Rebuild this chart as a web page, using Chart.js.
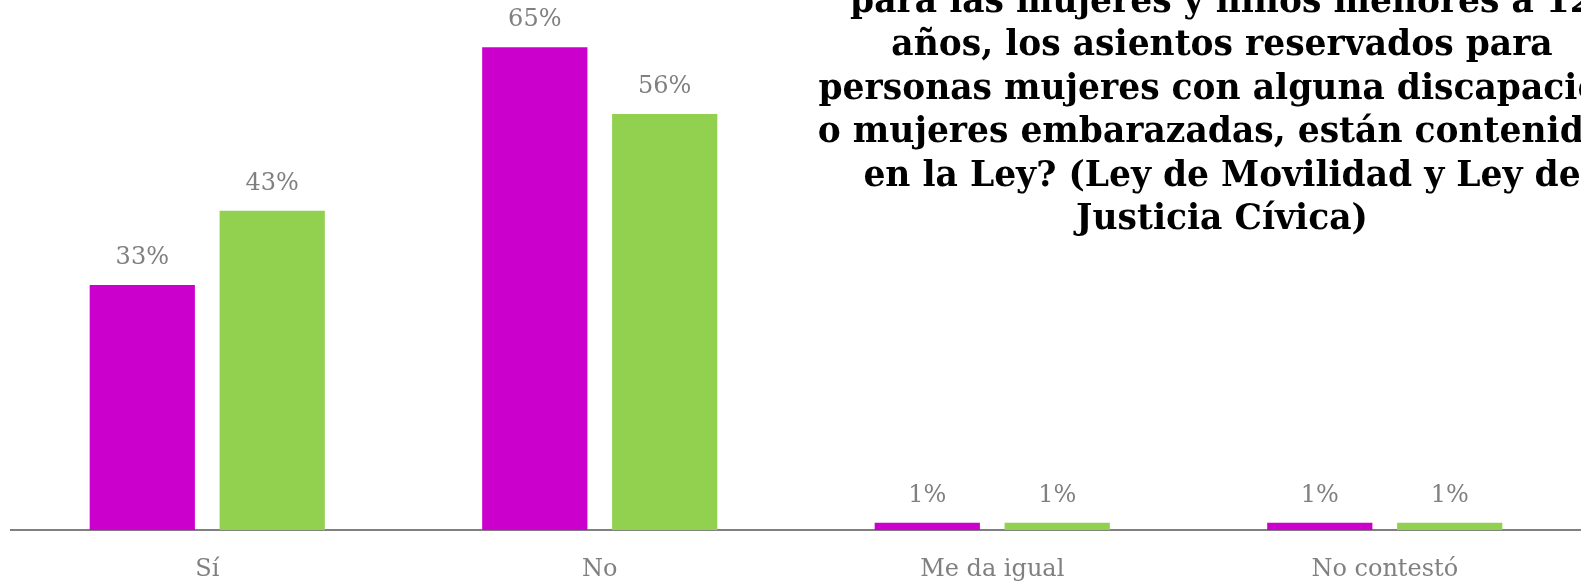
<!DOCTYPE html>
<html>
<head>
<meta charset="utf-8">
<script src="https://cdn.jsdelivr.net/npm/chart.js@4/dist/chart.umd.min.js"></script>
<style>
  html, body { margin: 0; padding: 0; background: #fff; }
  #wrap { width: 1581px; height: 584px; position: relative; }
</style>
</head>
<body>
<div id="wrap"><canvas id="chart"></canvas></div>
<script>
// Chart data
const categories = ['Sí', 'No', 'Me da igual', 'No contestó'];
const serieUno = [33, 65, 1, 1];
const serieDos = [43, 56, 1, 1];
const titleLines = [
  'para las mujeres y niños menores a 12',
  'años, los asientos reservados para',
  'personas mujeres con alguna discapación',
  'o mujeres embarazadas, están contenidos',
  'en la Ley? (Ley de Movilidad y Ley de',
  'Justicia Cívica)'
];

const labelFont = '24px "DejaVu Serif", serif';

// Percent labels above each bar
const barLabels = {
  id: 'barLabels',
  afterDatasetsDraw(chart) {
    const ctx = chart.ctx;
    ctx.save();
    ctx.font = labelFont;
    ctx.fillStyle = '#808080';
    ctx.textAlign = 'center';
    ctx.textBaseline = 'middle';
    chart.data.datasets.forEach((ds, i) => {
      chart.getDatasetMeta(i).data.forEach((bar, j) => {
        ctx.fillText(ds.data[j] + '%', bar.x, bar.y - 27);
      });
    });
    ctx.restore();
  }
};

// Title block, partly cut off at the top and right like the original
const clippedTitle = {
  id: 'clippedTitle',
  afterDraw(chart) {
    const ctx = chart.ctx;
    ctx.save();
    ctx.font = 'bold 34.5px "DejaVu Serif", serif';
    ctx.fillStyle = '#000';
    ctx.textAlign = 'center';
    ctx.textBaseline = 'middle';
    titleLines.forEach((line, i) => {
      ctx.fillText(line, 1222, 3 + i * 43.4);
    });
    ctx.restore();
  }
};

new Chart(document.getElementById('chart'), {
  type: 'bar',
  data: {
    labels: categories,
    datasets: [
      { label: 'Serie 1', data: serieUno, backgroundColor: '#CC00CC' },
      { label: 'Serie 2', data: serieDos, backgroundColor: '#92D050' }
    ]
  },
  options: {
    responsive: true,
    maintainAspectRatio: false,
    animation: false,
    categoryPercentage: 0.662,
    barPercentage: 0.81,
    layout: { padding: { top: 10, left: 11, right: -3, bottom: -25 } },
    plugins: {
      legend: { display: false },
      title: { display: false },
      tooltip: { enabled: false }
    },
    scales: {
      x: {
        grid: { display: false, drawTicks: false },
        border: { display: true, color: '#808080', width: 2 },
        ticks: { color: '#808080', font: { family: 'DejaVu Serif', size: 24 }, padding: 25 }
      },
      y: { display: false, min: 0, max: 70 }
    }
  },
  plugins: [barLabels, clippedTitle]
});
</script>
</body>
</html>
